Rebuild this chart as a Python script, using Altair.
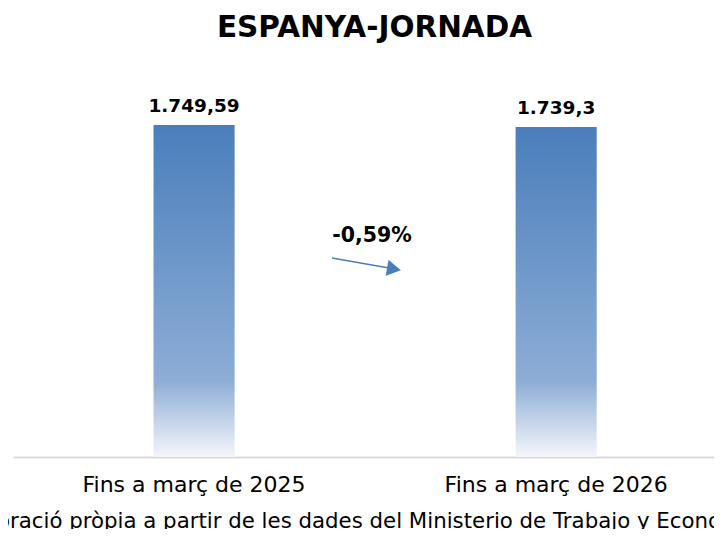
import altair as alt
import pandas as pd

categories = ["Fins a març de 2025", "Fins a març de 2026"]
values = [1749.59, 1739.3]
value_labels = ["1.749,59", "1.739,3"]
change_label = ["-0,59%"]
title_text = ["ESPANYA-JORNADA"]
footer_text = ["Elaboració pròpia a partir de les dades del Ministerio de Trabajo y Economía Social"]

FONT = "DejaVu Sans"
BLUE = "#4A7EBB"

df = pd.DataFrame({"cat": categories, "val": values, "lbl": value_labels})

xscale = alt.Scale(paddingInner=0.776, paddingOuter=0.356, align=0.545)
x = alt.X("cat:N", sort=categories, scale=xscale,
          axis=alt.Axis(title=None, labelAngle=0, ticks=False, domainColor="#D9D9D9",
                        domainWidth=2, labelFont=FONT, labelFontSize=22, labelLimit=0,
                        labelColor="#000000", labelPadding=17, grid=False))
y = alt.Y("val:Q", scale=alt.Scale(domain=[0, 2000]), axis=None)

grad = alt.LinearGradient(
    gradient="linear",
    stops=[alt.GradientStop(color="#4A7EBB", offset=0),
           alt.GradientStop(color="#8DADD6", offset=0.77),
           alt.GradientStop(color="#F4F6FA", offset=1)],
    x1=0, x2=0, y1=0, y2=1)

bars = alt.Chart(df).mark_bar(color=grad).encode(x=x, y=y)

labels = alt.Chart(df).mark_text(font=FONT, fontSize=18.5, fontWeight="bold", color="#000000",
                                 baseline="alphabetic", dy=-13).encode(x=x, y=y, text="lbl:N")

one = pd.DataFrame({"t": change_label})
arrow_line = alt.Chart(one).mark_rule(color=BLUE, strokeWidth=1.6).encode(
    x=alt.value(319), y=alt.value(180.5), x2=alt.value(376), y2=alt.value(190.5))
arrow_head = alt.Chart(one).mark_point(shape="triangle-right", filled=True, color=BLUE,
                                       opacity=1, size=260, angle=10).encode(
    x=alt.value(381), y=alt.value(191.5))
pct = alt.Chart(one).mark_text(font=FONT, fontSize=20.5, fontWeight="bold", color="#000000",
                               baseline="middle").encode(
    x=alt.value(359), y=alt.value(158.5), text="t:N")

ttl = alt.Chart(pd.DataFrame({"t": title_text})).mark_text(
    font=FONT, fontSize=29.5, fontWeight="bold", color="#000000", baseline="middle").encode(
    x=alt.value(361.5), y=alt.value(-49.5), text="t:N")

foot = alt.Chart(pd.DataFrame({"t": footer_text})).mark_text(
    font=FONT, fontSize=21.3, color="#000000", baseline="alphabetic", align="left").encode(
    x=alt.value(-62), y=alt.value(450.5), text="t:N")

chart = alt.layer(bars, labels, arrow_line, arrow_head, pct, ttl, foot).properties(
    width=701, height=379.5,
    padding={"left": 5, "top": 69.5, "right": 0, "bottom": 72},
    autosize="none",
    background="white",
).configure_view(strokeWidth=0)

chart.save("out.html", embed_options={"renderer": "svg", "actions": False})
